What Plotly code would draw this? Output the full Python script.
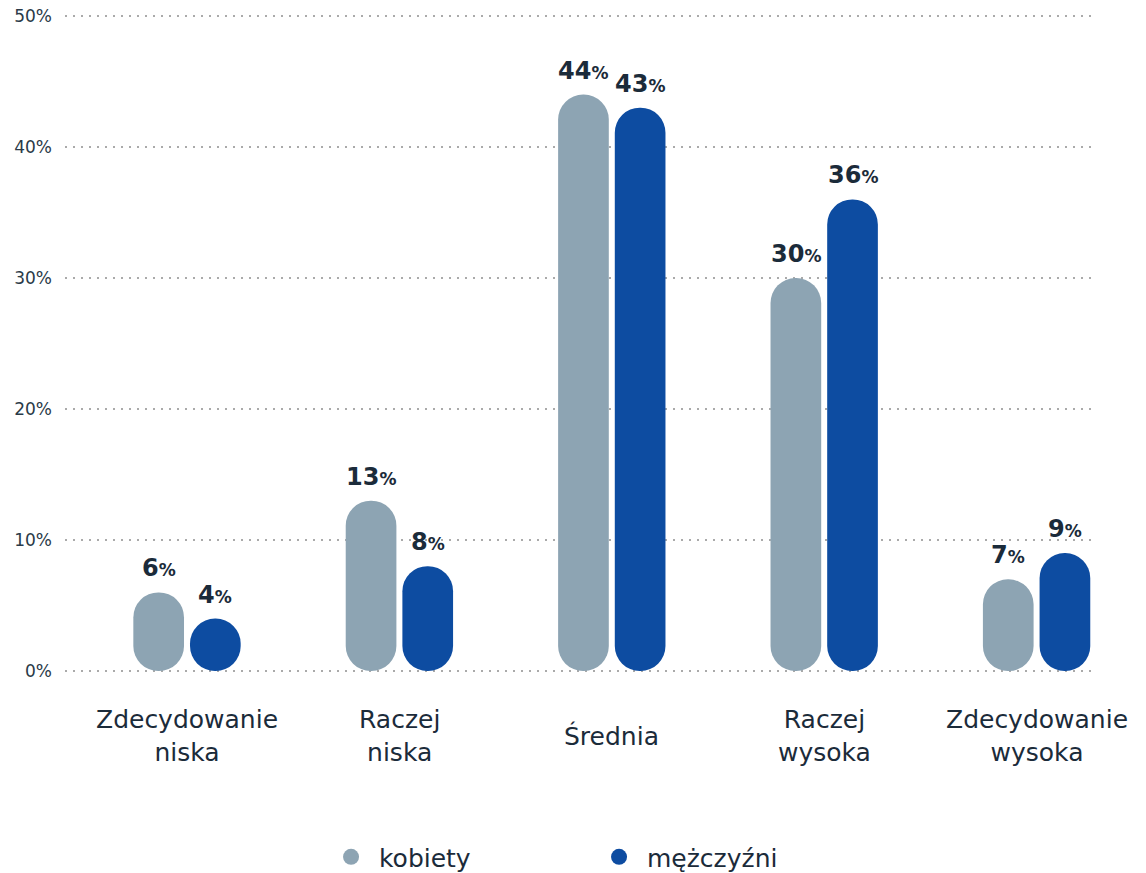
import plotly.graph_objects as go

# Data
categories = ["Zdecydowanie<br>niska", "Raczej<br>niska", "Średnia", "Raczej<br>wysoka", "Zdecydowanie<br>wysoka"]
kobiety = [6, 13, 44, 30, 7]
mezczyzni = [4, 8, 43, 36, 9]
y_ticks = [0, 10, 20, 30, 40, 50]
y_tick_labels = ["0%", "10%", "20%", "30%", "40%", "50%"]

# Styling
FONT = "DejaVu Sans"
TEXT = "#1b2b3a"
C_K = "#8da4b3"
C_M = "#0d4ca1"
BAR_W = 0.2386
OFF_K = -0.2527
OFF_M = 0.0141
RADIUS = 25

x_idx = list(range(len(categories)))
fig = go.Figure()

# Bars with an explicit base get rounded on both ends -> pill shapes
for name, values, offset, color in [("kobiety", kobiety, OFF_K, C_K),
                                    ("mężczyźni", mezczyzni, OFF_M, C_M)]:
    fig.add_trace(go.Bar(
        x=x_idx, y=values, base=[0] * len(values),
        width=BAR_W, offset=offset,
        marker=dict(color=color, line_width=0, cornerradius=RADIUS),
        showlegend=False, hoverinfo="skip",
    ))

# Legend entries (round markers)
for name, color in [("kobiety", C_K), ("mężczyźni", C_M)]:
    fig.add_trace(go.Scatter(x=[None], y=[None], mode="markers", name="\u00a0" + name,
                             marker=dict(color=color, size=18, symbol="circle")))

annotations = []
# Value labels above each bar
for values, offset in [(kobiety, OFF_K), (mezczyzni, OFF_M)]:
    for i, v in enumerate(values):
        annotations.append(dict(
            x=i + offset + BAR_W / 2, y=v, xref="x", yref="y",
            text=f"<b>{v}</b><span style='font-size:17px'><b>%</b></span>",
            showarrow=False, yanchor="bottom", yshift=8,
            font=dict(family=FONT, size=24, color=TEXT),
        ))

# Category labels, vertically centred below the axis
for i, cat in enumerate(categories):
    annotations.append(dict(
        x=i, y=-0.0938, xref="x", yref="paper", text=cat,
        showarrow=False, xanchor="center", yanchor="middle",
        font=dict(family=FONT, size=25, color=TEXT),
    ))

fig.update_layout(
    width=1146, height=873,
    margin=dict(l=65, r=53, t=13, b=199, autoexpand=False),
    paper_bgcolor="white", plot_bgcolor="white",
    barmode="overlay",
    font=dict(family=FONT, color=TEXT),
    annotations=annotations,
    legend=dict(orientation="h", x=0.2588, xanchor="left", y=-0.277, yanchor="middle",
                font=dict(family=FONT, size=25, color=TEXT),
                entrywidth=223, entrywidthmode="pixels", itemsizing="trace"),
    xaxis=dict(range=[-0.5744, 4.2656], showticklabels=False,
               showgrid=False, zeroline=False, showline=False, ticks=""),
    yaxis=dict(range=[-0.23, 50.23], tickvals=y_ticks, ticktext=y_tick_labels,
               showgrid=True, gridcolor="#aaaaaa", griddash="1.5px,6.5px", gridwidth=1.5,
               zeroline=False, showline=False, ticks="", ticklabelstandoff=12,
               tickfont=dict(family=FONT, size=17, color="#2a3a48")),
)

fig.write_html("out.html")
